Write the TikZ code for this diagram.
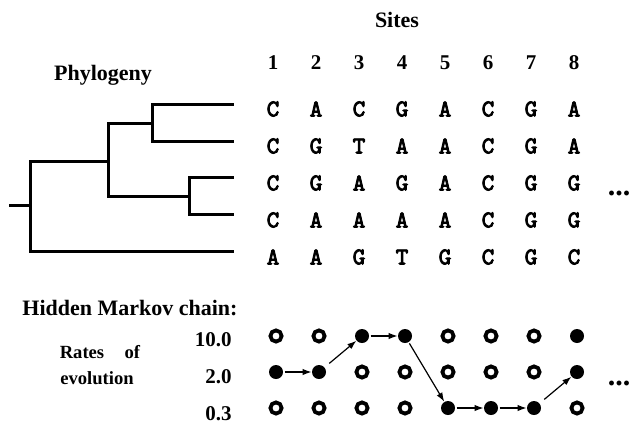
\documentclass[tikz,border=0pt]{standalone}
\usepackage{fontspec}
\setmainfont{Liberation Serif}
\newfontfamily\seqfont{lmmono10-regular.otf}[FakeBold=3.5]
\usetikzlibrary{arrows.meta}
\tikzset{
  head/.style={font=\fontsize{11}{13}\selectfont\bfseries, inner sep=0pt},
  small/.style={font=\fontsize{9.3}{11}\selectfont\bfseries, inner sep=0pt},
  num/.style={font=\fontsize{10.5}{12}\selectfont\bfseries, inner sep=0pt},
  dotsty/.style={font=\fontsize{15}{16}\selectfont\bfseries, inner sep=0pt},
  base/.style={font=\fontsize{12}{13}\selectfont\seqfont, inner sep=0pt},
  branch/.style={line width=1.5pt, line cap=rect, line join=miter},
  openc/.style={circle, draw, line width=1.9pt, inner sep=0pt, minimum size=5.6pt},
  fullc/.style={circle, fill, inner sep=0pt, minimum size=7pt},
  arr/.style={line width=0.6pt, -{Latex[length=4.5pt,width=3.2pt]}, shorten <=0.6pt},
}
\begin{document}
\begin{tikzpicture}[x=0.5pt,y=-0.5pt]
\useasboundingbox (0,0) rectangle (636,423);

% titles
\node[head] (sites) at (397,20) {Sites};
\node[head] (phylo) at (103,75) {Phylogeny};
\node[head, anchor=west] (hmc) at (22,308) {Hidden Markov chain:};

% site numbers
\foreach \c in {1,...,8}
  \node[num] (n\c) at ({273+(\c-1)*43},63) {\c};

% sequences
\foreach \row [count=\r] in {{C,A,C,G,A,C,G,A},{C,G,T,A,A,C,G,A},{C,G,A,G,A,C,G,G},{C,A,A,A,A,C,G,G},{A,A,G,T,G,C,G,C}}
  \foreach \ch [count=\c] in \row
    \node[base] (s-\r-\c) at ({273+(\c-1)*43},{109+(\r-1)*37}) {\ch};
\node[dotsty, anchor=base] (dots1) at (619,195) {...};

% tree
\coordinate (stub) at (10,205);
\coordinate (t0) at (30,205);
\coordinate (t1) at (108,161);
\coordinate (t2) at (152,123);
\coordinate (t3) at (189,196);
\coordinate (l1) at (232,104);
\coordinate (l2) at (232,141);
\coordinate (l3) at (232,177);
\coordinate (l4) at (232,214);
\coordinate (l5) at (232,251);
\draw[branch] (stub) -- (t0);
\draw[branch] (t0) |- (t1);
\draw[branch] (t0) |- (l5);
\draw[branch] (t1) |- (t2);
\draw[branch] (t1) |- (t3);
\draw[branch] (t2) |- (l1);
\draw[branch] (t2) |- (l2);
\draw[branch] (t3) |- (l3);
\draw[branch] (t3) |- (l4);

% rate labels
\node[num, anchor=east] (r1) at (232,340) {10.0};
\node[num, anchor=east] (r2) at (232,377) {2.0};
\node[num, anchor=east] (r3) at (232,414) {0.3};
\node[small] (rates) at (100,352) {Rates\hspace{1.1em}of};
\node[small] (evol) at (97,378) {evolution};

% hidden states
\foreach \states [count=\r] in {{0,0,1,1,0,0,0,1},{1,1,0,0,0,0,0,1},{0,0,0,0,1,1,1,0}}
  \foreach \s [count=\c] in \states {
    \ifnum\s=1
      \node[fullc] (c-\c-\r) at ({276+(\c-1)*43},{336+(\r-1)*36}) {};
    \else
      \node[openc] (c-\c-\r) at ({276+(\c-1)*43},{336+(\r-1)*36}) {};
    \fi
  }
\node[dotsty, anchor=base] (dots2) at (619,385) {...};

% transitions
\draw[arr] (c-1-2) -- (c-2-2);
\draw[arr, shorten <=3pt] (c-2-2) -- (c-3-1);
\draw[arr] (c-3-1) -- (c-4-1);
\draw[arr] (c-4-1) -- (c-5-3);
\draw[arr] (c-5-3) -- (c-6-3);
\draw[arr] (c-6-3) -- (c-7-3);
\draw[arr, shorten <=3pt] (c-7-3) -- (c-8-2);
\end{tikzpicture}
\end{document}
